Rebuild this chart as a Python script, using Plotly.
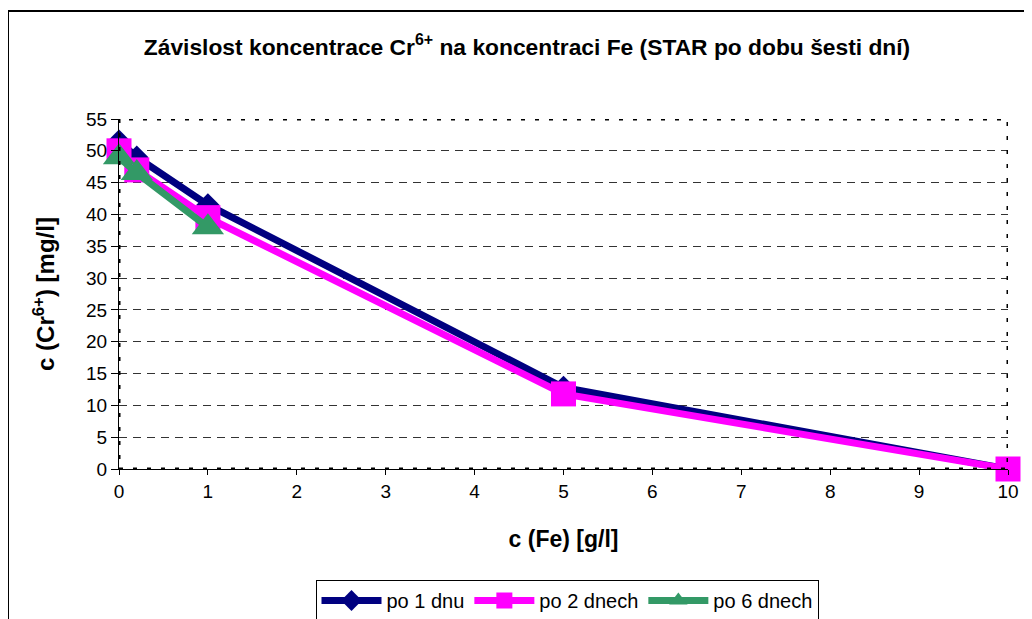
import plotly.graph_objects as go

# Data
fe_all = [0, 0.2, 1, 5, 10]
fe_6 = [0, 0.2, 1]
po_1_dnu = [51.5, 49, 41.5, 12.8, 0]
po_2_dnech = [50, 47, 39.5, 11.8, 0]
po_6_dnech = [49, 46.5, 38]
x_ticks = list(range(0, 11))
y_ticks = list(range(0, 56, 5))

# page body has an 8px margin, so the figure is drawn 8px smaller and shifted
W, H = 1024, 611
L, R, T, B = 111, 1000, 111, 461

fig = go.Figure()
fig.add_trace(go.Scatter(x=fe_all, y=po_1_dnu, name="po 1 dnu", mode="lines+markers",
                         cliponaxis=False,
                         line=dict(color="#000080", width=7),
                         marker=dict(symbol="diamond", size=18, color="#000080")))
fig.add_trace(go.Scatter(x=fe_all, y=po_2_dnech, name="po 2 dnech", mode="lines+markers",
                         cliponaxis=False,
                         line=dict(color="#FF00FF", width=7),
                         marker=dict(symbol="square", size=25, color="#FF00FF")))
fig.add_trace(go.Scatter(x=fe_6, y=po_6_dnech, name="po 6 dnech", mode="lines+markers",
                         cliponaxis=False,
                         line=dict(color="#339966", width=7),
                         marker=dict(symbol="triangle-up", size=28, color="#339966")))

font = "Liberation Sans, Arial, sans-serif"
fig.update_layout(
    width=W, height=H,
    margin=dict(l=L, r=W - R, t=T, b=H - B, autoexpand=False),
    paper_bgcolor="white", plot_bgcolor="white",
    font=dict(family=font, size=19, color="black"),
    title=dict(text="<b>Závislost koncentrace Cr<sup>6+</sup> na koncentraci Fe (STAR po dobu šesti dní)</b>",
               x=519 / W, xanchor="center", y=1 - 39 / H, yanchor="middle",
               font=dict(size=22.8, family=font)),
    xaxis=dict(range=[0, 10], tickvals=x_ticks, showgrid=False, zeroline=False,
               showline=True, linecolor="black", linewidth=1, automargin=False,
               ticks="outside", ticklen=5, tickcolor="black",
               tickfont=dict(size=19),
               title=dict(text="<b>c (Fe) [g/l]</b>", font=dict(size=23), standoff=30)),
    yaxis=dict(range=[0, 55], tickvals=y_ticks, showgrid=True, gridcolor="#333333",
               griddash="8px,6px", gridwidth=1, zeroline=False,
               showline=True, linecolor="black", linewidth=1, automargin=False,
               ticks="outside", ticklen=7, tickcolor="black",
               tickfont=dict(size=19),
               title=dict(text="<b>c (Cr<sup>6+</sup>) [mg/l]</b>", font=dict(size=24), standoff=24)),
    legend=dict(orientation="h", x=(559 - L) / (R - L), xanchor="center",
                y=(B - 572) / (B - T), yanchor="top",
                bordercolor="black", borderwidth=1, bgcolor="white",
                font=dict(size=20), itemwidth=60, tracegroupgap=0),
    showlegend=True,
)

# plot area dashed border
fig.add_shape(type="rect", xref="x", yref="y", x0=0, x1=10, y0=0, y1=55,
              line=dict(color="black", width=3, dash="4px,10px"), layer="above")
# outer chart border (left and top visible)
fig.add_shape(type="rect", xref="paper", yref="paper",
              x0=(0 - L) / (R - L), x1=(1045 - L) / (R - L),
              y0=(B - 640) / (B - T), y1=(B - 3) / (B - T),
              line=dict(color="black", width=2), layer="below")

fig.write_html("out.html")
